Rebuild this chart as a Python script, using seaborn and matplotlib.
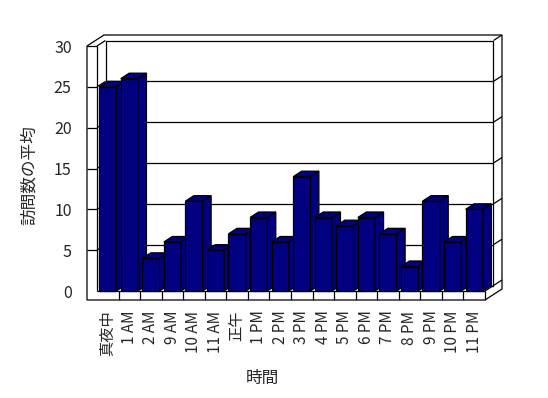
import matplotlib
matplotlib.use("Agg")
import matplotlib.pyplot as plt
from matplotlib.patches import Polygon
import seaborn as sns

# データ
hours = ['真夜中', '1 AM', '2 AM', '9 AM', '10 AM', '11 AM', '正午', '1 PM', '2 PM',
         '3 PM', '4 PM', '5 PM', '6 PM', '7 PM', '8 PM', '9 PM', '10 PM', '11 PM']
visits = [25, 26, 4, 6, 11, 5, 7, 9, 6, 14, 9, 8, 9, 7, 3, 11, 6, 10]
yticks = [0, 5, 10, 15, 20, 25, 30]

sns.set_theme(style="white")
plt.rcParams['font.family'] = ['Noto Sans CJK JP', 'DejaVu Sans']

W, H = 548, 398
fig = plt.figure(figsize=(W / 100, H / 100), dpi=100)

# 画素でのレイアウト
AL, AR, AT, AB = 80, 510, 28, 305
X0P, X1P, Y0P, YTP = 97, 485, 291, 46
ax = fig.add_axes([AL / W, 1 - AB / H, (AR - AL) / W, (AB - AT) / H])

n = len(hours)
ymax = yticks[-1]
sx = (X1P - X0P) / n
sy = (Y0P - YTP) / ymax
x0, x1 = -0.5, n - 0.5

dx, dy = 8.5 / sx, 5.5 / sy     # 奥行き
tw, tf = 10 / sx, 9 / sy        # 壁と床の厚さ
K = 'black'
lw = 0.9

def line(xs, ys, z=3):
    ax.plot(xs, ys, color=K, lw=lw, zorder=z, solid_capstyle='butt')

# 棒（正面）
sns.barplot(x=hours, y=visits, order=hours, color='#000080', saturation=1, width=0.8,
            edgecolor=K, linewidth=lw, ax=ax)
bars = list(ax.patches)

# 背景の外形
outline = [(x0 - tw, -tf), (x1, -tf), (x1 + 2 * dx, -tf + 2 * dy), (x1 + 2 * dx, ymax + 2 * dy),
           (x0 - tw + 2 * dx, ymax + 2 * dy), (x0 - tw, ymax)]
ax.add_patch(Polygon(outline, closed=True, facecolor='white', edgecolor=K, lw=lw, zorder=1))

# 奥の壁
ax.add_patch(Polygon([(x0 + dx, dy), (x1 + dx, dy), (x1 + dx, ymax + dy), (x0 + dx, ymax + dy)],
                     closed=True, facecolor='white', edgecolor=K, lw=lw, zorder=2))
line([x1 + dx, x1 + 2 * dx], [ymax + dy, ymax + 2 * dy], 2)
line([x1 + dx, x1 + 2 * dx], [dy, 2 * dy], 2)
for v in yticks[1:-1]:
    line([x0 + dx, x1 + dx], [v + dy, v + dy], 2)
    line([x0, x0 + dx], [v, v + dy], 2)
    line([x1 + dx, x1 + 2 * dx], [v + dy, v + 2 * dy], 2)

# 左の壁
line([x0, x0 + dx], [ymax, ymax + dy], 2)
line([x0, x0], [0, ymax], 2)
line([x0 - tw, x0], [ymax, ymax], 2)
for v in yticks[1:-1]:
    line([x0 - tw, x0], [v, v], 2)

# 床
line([x0, x1], [0, 0], 2)
line([x0 + dx, x1 + dx], [dy, dy], 2)
line([x1, x1 + dx], [0, dy], 2)
line([x1, x1], [-tf, 0], 2)
for i in range(n - 1):
    line([i + 0.5, i + 0.5], [-tf, 0], 2)

# 棒の上面と側面
for i, p in enumerate(bars):
    z = 10 + 2 * i
    p.set_zorder(z)
    l, r, h = p.get_x(), p.get_x() + p.get_width(), p.get_height()
    top = [(l, h), (r, h), (r + dx, h + dy), (l + dx, h + dy)]
    side = [(r, 0), (r, h), (r + dx, h + dy), (r + dx, dy)]
    ax.add_patch(Polygon(top, closed=True, facecolor='#000080', edgecolor=K, lw=lw, zorder=z + 1))
    ax.add_patch(Polygon(side, closed=True, facecolor='#000080', edgecolor=K, lw=lw, zorder=z + 1))

# 軸
ax.set_xlim(x0 - (X0P - AL) / sx, x1 + (AR - X1P) / sx)
ax.set_ylim(-(AB - Y0P) / sy, ymax + (YTP - AT) / sy)
for s in ax.spines.values():
    s.set_visible(False)
ax.set_facecolor('white')
ax.grid(False)
ax.set_yticks(yticks)
ax.set_yticklabels([str(v) for v in yticks], fontsize=11.5)
ax.set_xticks(range(n))
ax.set_xticklabels(hours, rotation=90, fontsize=11)
ax.tick_params(axis='y', length=0, pad=6)
ax.tick_params(axis='x', length=0, pad=4)
ax.set_xlabel('時間', fontsize=12)
ax.set_ylabel('訪問数の平均', fontsize=12)
ax.xaxis.set_label_coords((262 - AL) / (AR - AL), -(370 - AB) / (AB - AT))
ax.yaxis.set_label_coords(-(AL - 38) / (AR - AL), (AB - 175) / (AB - AT))

fig.savefig('out.png', dpi=100)
